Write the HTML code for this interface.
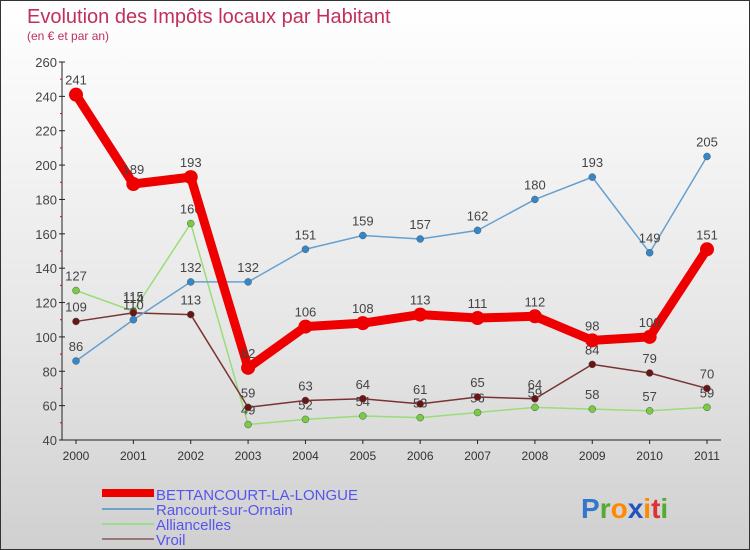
<!DOCTYPE html>
<html><head><meta charset="utf-8"><style>
body{margin:0;}
#wrap{width:750px;height:550px;position:relative;background:linear-gradient(#ffffff 0%,#e6e6e6 60%,#d0d0d0 100%);box-sizing:border-box;border:1px solid #333;font-family:"Liberation Sans",sans-serif;overflow:hidden}
svg{position:absolute;left:0;top:0}
</style></head><body>
<div id="wrap">
<svg id="chart" width="750" height="550">
<text x="26" y="22" font-size="20" fill="#c0305a">Evolution des Impôts locaux par Habitant</text>
<text x="26" y="39" font-size="12" fill="#c0305a">(en € et par an)</text>
<g>
<rect x="101" y="488" width="52" height="8" fill="#ee0000"/>
<text x="155" y="499" font-size="15" fill="#5555ee">BETTANCOURT-LA-LONGUE</text>
<rect x="101" y="507" width="52" height="2" fill="#6fa0c8"/>
<text x="155" y="514" font-size="15" fill="#5555ee">Rancourt-sur-Ornain</text>
<rect x="101" y="522" width="52" height="2" fill="#99dd88"/>
<text x="155" y="529" font-size="15" fill="#5555ee">Alliancelles</text>
<rect x="101" y="537" width="52" height="2" fill="#997777"/>
<text x="155" y="544" font-size="15" fill="#5555ee">Vroil</text>
</g>
<g font-size="28" font-weight="bold">
<text x="580" y="517"><tspan fill="#3377cc">P</tspan><tspan fill="#55aa33">r</tspan><tspan fill="#ff8800">o</tspan><tspan fill="#2255bb">x</tspan><tspan fill="#ff8800">i</tspan><tspan fill="#dd3333">t</tspan><tspan fill="#55aa33">i</tspan></text>
</g>
</svg>
</div>
<script>
const years=["2000","2001","2002","2003","2004","2005","2006","2007","2008","2009","2010","2011"];
const yTicks=[40,60,80,100,120,140,160,180,200,220,240,260];
const bettancourt=[241,189,193,82,106,108,113,111,112,98,100,151];
const rancourt=[86,110,132,132,151,159,157,162,180,193,149,205];
const alliancelles=[127,115,166,49,52,54,53,56,59,58,57,59];
const vroil=[109,114,113,59,63,64,61,65,64,84,79,70];
const NS="http://www.w3.org/2000/svg";
const svg=document.getElementById("chart");
const x=i=>75+i*(706-75)/11;
const y=v=>439-(v-40)*(378/220);
function mk(t,a,p){const e=document.createElementNS(NS,t);for(const k in a)e.setAttribute(k,a[k]);(p||svg).appendChild(e);return e;}
const ax=mk("g",{});


const yl=mk("line",{x1:61,y1:y(260),x2:61,y2:y(40),stroke:"#222","stroke-width":1},ax);


const xl=mk("line",{x1:61,y1:y(40),x2:720,y2:y(40),stroke:"#222","stroke-width":1},ax);


yTicks.forEach((v,i)=>{
  mk("line",{x1:58,x2:64,y1:y(v),y2:y(v),stroke:"#222"},ax);
  const t=mk("text",{x:56,y:y(v)+5,"font-size":13,fill:"#444","text-anchor":"end"},ax);
  t.textContent=v;
  
  
  if(i<yTicks.length-1)mk("line",{x1:59,x2:61,y1:y(v+10),y2:y(v+10),stroke:"#e00"},ax);
});
years.forEach((yr,i)=>{
  mk("line",{x1:x(i),x2:x(i),y1:y(40),y2:y(40)+4,stroke:"#222"},ax);
  const t=mk("text",{x:x(i),y:y(40)+20,"font-size":12,fill:"#333","text-anchor":"middle"},ax);
  t.textContent=yr;
  
  
});
function series(name,data,color,w,r,dot){
  const g=mk("g",{});
  
  
  const pl=mk("polyline",{points:data.map((v,i)=>x(i)+","+y(v)).join(" "),fill:"none",stroke:color,"stroke-width":w,"stroke-linejoin":"round"},g);
  
  
  data.forEach((v,i)=>{
    const c=mk("circle",{cx:x(i),cy:y(v),r:r,fill:dot,stroke:w>3?"none":"#555","stroke-width":0.5},g);
    
    
    const t=mk("text",{x:x(i),y:y(v)-10,"font-size":13,fill:"#444","text-anchor":"middle"},g);
    t.textContent=v;
    
    
  });
}
series("alliancelles",alliancelles,"#99dd77",1.5,3.5,"#77cc44");
series("vroil",vroil,"#7a3333",1.5,3.5,"#6a1515");
series("rancourt",rancourt,"#66a0d0",1.5,3.5,"#3388cc");
series("bettancourt",bettancourt,"#ee0000",9,7,"#ee0000");
</script>
</body></html>
